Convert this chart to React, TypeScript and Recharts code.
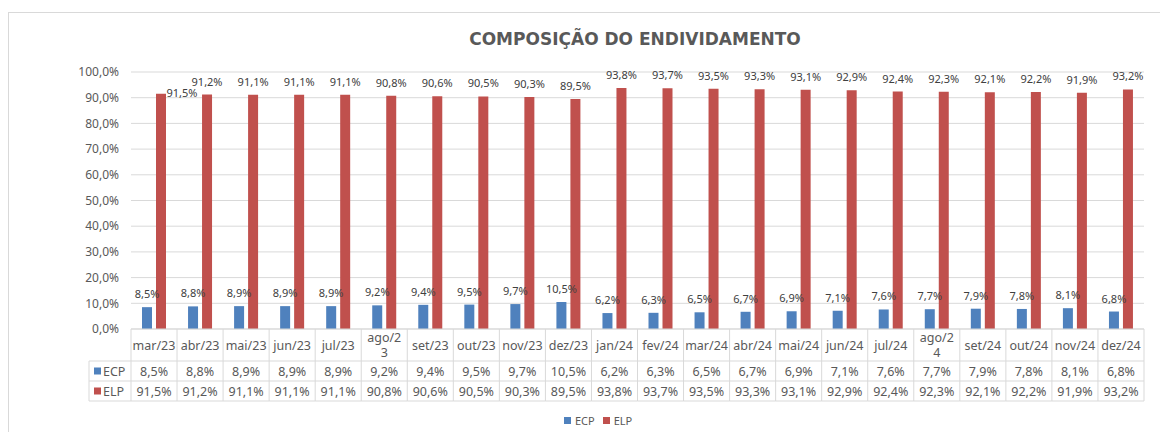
import { Bar, BarChart, CartesianGrid, LabelList, Legend, XAxis, YAxis } from "recharts";

const categories = [
  "mar/23", "abr/23", "mai/23", "jun/23", "jul/23", "ago/23", "set/23", "out/23",
  "nov/23", "dez/23", "jan/24", "fev/24", "mar/24", "abr/24", "mai/24", "jun/24",
  "jul/24", "ago/24", "set/24", "out/24", "nov/24", "dez/24",
];
// header text as Excel wraps it in the data table
const tickLabels = [
  "mar/23", "abr/23", "mai/23", "jun/23", "jul/23", "ago/2\n3", "set/23", "out/23",
  "nov/23", "dez/23", "jan/24", "fev/24", "mar/24", "abr/24", "mai/24", "jun/24",
  "jul/24", "ago/2\n4", "set/24", "out/24", "nov/24", "dez/24",
];
const ecp = [8.5, 8.8, 8.9, 8.9, 8.9, 9.2, 9.4, 9.5, 9.7, 10.5, 6.2, 6.3, 6.5, 6.7, 6.9, 7.1, 7.6, 7.7, 7.9, 7.8, 8.1, 6.8];
const elp = [91.5, 91.2, 91.1, 91.1, 91.1, 90.8, 90.6, 90.5, 90.3, 89.5, 93.8, 93.7, 93.5, 93.3, 93.1, 92.9, 92.4, 92.3, 92.1, 92.2, 91.9, 93.2];
const yTicks = [0, 10, 20, 30, 40, 50, 60, 70, 80, 90, 100];

const data = categories.map((name, i) => ({ name, ECP: ecp[i], ELP: elp[i] }));

const BLUE = "#4F81BD";
const RED = "#C0504D";
const GRID = "#D9D9D9";
const TEXT = "#595959";
const FONT = "'Noto Sans', sans-serif";

const W = 1159;
const H = 419;
const M = { top: 59, right: 24, left: 0, bottom: 0 };
const Y_W = 122;
const X_H = 103;
const PLOT_W = W - Y_W - M.right;

const fmt = (v: number) => v.toFixed(1).replace(".", ",") + "%";

function TableTick(props: any) {
  const { x, y, payload } = props;
  const i = payload.index ?? props.index;
  const bw = PLOT_W / categories.length;
  const l = x - bw / 2;
  const r = x + bw / 2;
  const lines = tickLabels[i].split("\n");
  const hdr = 32;
  const row = 20;
  return (
    <g fontFamily={FONT} fill={TEXT}>
      <line x1={l} x2={l} y1={y} y2={y + hdr + row * 2} stroke={GRID} />
      {i === categories.length - 1 && (
        <line x1={r} x2={r} y1={y} y2={y + hdr + row * 2} stroke={GRID} />
      )}
      <line x1={l} x2={r} y1={y + hdr} y2={y + hdr} stroke={GRID} />
      <line x1={l} x2={r} y1={y + hdr + row} y2={y + hdr + row} stroke={GRID} />
      <line x1={l} x2={r} y1={y + hdr + row * 2} y2={y + hdr + row * 2} stroke={GRID} />
      {lines.map((t: string, k: number) => (
        <text
          key={k}
          x={x}
          y={y + hdr / 2 + (k - (lines.length - 1) / 2) * 15.5}
          textAnchor="middle"
          dominantBaseline="central"
          fontSize={12.5}
        >
          {t}
        </text>
      ))}
      <text x={x} y={y + hdr + row / 2} textAnchor="middle" dominantBaseline="central" fontSize={12.5}>
        {fmt(ecp[i])}
      </text>
      <text x={x} y={y + hdr + row * 1.5} textAnchor="middle" dominantBaseline="central" fontSize={12.5}>
        {fmt(elp[i])}
      </text>
      {i === 0 && (
        <g>
          <line x1={l - 42} x2={l} y1={y + hdr} y2={y + hdr} stroke={GRID} />
          <line x1={l - 42} x2={l} y1={y + hdr + row} y2={y + hdr + row} stroke={GRID} />
          <line x1={l - 42} x2={l} y1={y + hdr + row * 2} y2={y + hdr + row * 2} stroke={GRID} />
          <line x1={l - 42} x2={l - 42} y1={y + hdr} y2={y + hdr + row * 2} stroke={GRID} />
          <rect x={l - 37} y={y + hdr + row / 2 - 3.5} width={7} height={7} fill={BLUE} />
          <rect x={l - 37} y={y + hdr + row * 1.5 - 3.5} width={7} height={7} fill={RED} />
          <text x={l - 28} y={y + hdr + row / 2} dominantBaseline="central" fontSize={12.5}>ECP</text>
          <text x={l - 28} y={y + hdr + row * 1.5} dominantBaseline="central" fontSize={12.5}>ELP</text>
        </g>
      )}
    </g>
  );
}

function ValueLabel(props: any) {
  const { x, y, width, value, index, series } = props;
  let cx = x + width / 2;
  let cy = y - 13.5;
  // Excel nudged the first ELP label aside
  if (series === "ELP" && index === 0) {
    cx = x + width + 16;
    cy = y - 1;
  }
  return (
    <text
      x={cx}
      y={cy}
      textAnchor="middle"
      dominantBaseline="central"
      fontSize={11}
      fontFamily={FONT}
      fill="#404040"
    >
      {fmt(value)}
    </text>
  );
}

function LegendBox(props: any) {
  const items = props.payload || [];
  return (
    <div style={{ display: "flex", gap: 8, fontFamily: FONT, fontSize: 11, color: TEXT }}>
      {items.map((it: any) => (
        <div key={it.value} style={{ display: "flex", alignItems: "center", gap: 4 }}>
          <span style={{ width: 7, height: 7, background: it.color, display: "inline-block" }} />
          <span>{it.value}</span>
        </div>
      ))}
    </div>
  );
}

export default function App() {
  return (
    <div style={{ paddingTop: 4 }}>
      <style>{"body{overflow:hidden}"}</style>
      <div
        style={{
          position: "relative",
          width: W,
          height: 420,
          borderTop: `1px solid ${GRID}`,
          borderLeft: `1px solid ${GRID}`,
          overflow: "hidden",
          background: "#fff",
        }}
      >
        <div
          style={{
            position: "absolute",
            left: 626,
            top: 16,
            transform: "translateX(-50%)",
            whiteSpace: "nowrap",
            fontFamily: "'DejaVu Sans', sans-serif",
            fontWeight: "bold",
            fontSize: 17,
            lineHeight: "20px",
            color: TEXT,
          }}
        >
          COMPOSIÇÃO DO ENDIVIDAMENTO
        </div>
        <BarChart width={W} height={H} data={data} margin={M} barSize={10} barGap={4}>
          <CartesianGrid vertical={false} stroke={GRID} />
          <XAxis
            dataKey="name"
            interval={0}
            height={X_H}
            tickSize={0}
            tickMargin={0}
            tickLine={false}
            axisLine={{ stroke: GRID }}
            tick={<TableTick />}
          />
          <YAxis
            width={Y_W}
            domain={[0, 100]}
            ticks={yTicks}
            tickFormatter={fmt}
            axisLine={false}
            tickLine={false}
            tickSize={0}
            tickMargin={12}
            tick={{ fill: TEXT, fontSize: 12, fontFamily: FONT }}
          />
          <Legend
            layout="horizontal"
            verticalAlign="middle"
            align="center"
            wrapperStyle={{ top: 400, left: 555, width: 90 }}
            content={<LegendBox />}
          />
          <Bar dataKey="ECP" name="ECP" fill={BLUE} isAnimationActive={false}>
            <LabelList dataKey="ECP" content={<ValueLabel series="ECP" />} />
          </Bar>
          <Bar dataKey="ELP" name="ELP" fill={RED} isAnimationActive={false}>
            <LabelList dataKey="ELP" content={<ValueLabel series="ELP" />} />
          </Bar>
        </BarChart>
      </div>
    </div>
  );
}
